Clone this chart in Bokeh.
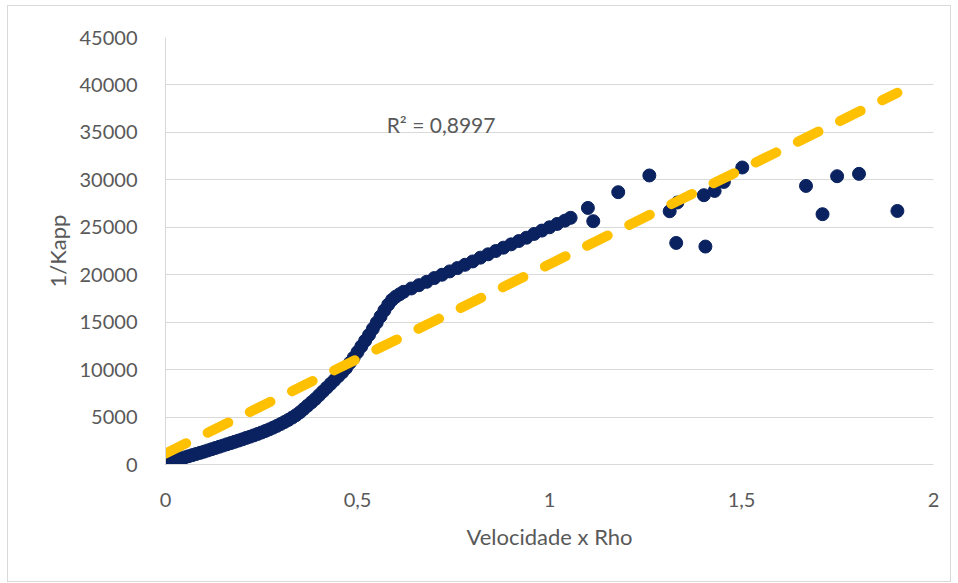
from bokeh.plotting import figure
from bokeh.layouts import column
from bokeh.models import FixedTicker, Range1d, Label, ColumnDataSource
from bokeh.embed import file_html
from bokeh.resources import INLINE

# Measured series: Velocidade x Rho vs 1/Kapp
vel_rho = [
    0.00, 0.01, 0.02, 0.03, 0.04, 0.05, 0.06, 0.07, 0.08, 0.09,
    0.10, 0.11, 0.12, 0.13, 0.14, 0.15, 0.16, 0.17, 0.18, 0.19,
    0.20, 0.21, 0.22, 0.23, 0.24, 0.25, 0.26, 0.27, 0.28, 0.29,
    0.30, 0.31, 0.32, 0.33, 0.34, 0.35, 0.36, 0.37, 0.38, 0.39,
    0.40, 0.41, 0.42, 0.43, 0.44, 0.45, 0.46, 0.47, 0.48, 0.49,
    0.50, 0.51, 0.52, 0.53, 0.54, 0.55, 0.56, 0.57, 0.58, 0.59,
    0.60, 0.61, 0.62, 0.64, 0.66, 0.68, 0.70, 0.72, 0.74, 0.76,
    0.78, 0.80, 0.82, 0.84, 0.86, 0.88, 0.90, 0.92, 0.94, 0.96,
    0.98, 1.00, 1.02, 1.04, 1.055,
    1.10, 1.114, 1.179, 1.26, 1.313, 1.333, 1.33, 1.406, 1.402, 1.43,
    1.454, 1.502, 1.668, 1.711, 1.749, 1.806, 1.906,
]
inv_kapp = [
    0, 180, 350, 500, 630, 750, 870, 990, 1110, 1230,
    1350, 1480, 1610, 1740, 1870, 2000, 2130, 2260, 2390, 2520,
    2650, 2800, 2930, 3070, 3220, 3370, 3530, 3700, 3880, 4070,
    4270, 4480, 4700, 4950, 5200, 5500, 5850, 6200, 6550, 6900,
    7300, 7700, 8100, 8500, 8900, 9300, 9700, 10150, 10700, 11250,
    11850, 12450, 13050, 13650, 14300, 14950, 15600, 16250, 16850, 17350,
    17700, 17950, 18200, 18550, 18900, 19250, 19650, 20000, 20350, 20700,
    21050, 21400, 21800, 22150, 22500, 22850, 23200, 23550, 23900, 24300,
    24650, 25000, 25350, 25700, 26000,
    27040, 25640, 28700, 30460, 26690, 27610, 23350, 22970, 28380, 28830,
    29780, 31300, 29360, 26380, 30380, 30630, 26720,
]

# Linear trendline y = intercept + slope * x, drawn over the data span
trend_intercept = 1160
trend_slope = 19950
r2_text = "R² = 0,8997"

x_ticks = [0, 0.5, 1, 1.5, 2]
x_tick_labels = ["0", "0,5", "1", "1,5", "2"]
y_ticks = [0, 5000, 10000, 15000, 20000, 25000, 30000, 35000, 40000, 45000]

FONT = "Lato"
TEXT_COLOR = "#595959"
GRID_COLOR = "#D9D9D9"
NAVY = "#0A2260"
GOLD = "#FFC000"

p = figure(
    width=942, height=575,
    output_backend="svg", toolbar_location=None,
    x_range=Range1d(0, 2), y_range=Range1d(0, 45000),
    min_border_left=157, min_border_right=17,
    min_border_top=31, min_border_bottom=117,
)
p.outline_line_color = None
p.background_fill_color = "white"
p.border_fill_color = "white"

# axes
p.xaxis.ticker = FixedTicker(ticks=x_ticks)
p.xaxis.major_label_overrides = {t: s for t, s in zip(x_ticks, x_tick_labels)}
p.yaxis.ticker = FixedTicker(ticks=y_ticks)
for ax in (p.xaxis, p.yaxis):
    ax.axis_line_color = GRID_COLOR
    ax.axis_line_width = 1
    ax.major_tick_line_color = None
    ax.minor_tick_line_color = None
    ax.major_label_text_font = FONT
    ax.major_label_text_font_size = "20px"
    ax.major_label_text_color = TEXT_COLOR
    ax.axis_label_text_font = FONT
    ax.axis_label_text_font_size = "22px"
    ax.axis_label_text_font_style = "normal"
    ax.axis_label_text_color = TEXT_COLOR
p.xaxis.axis_label = "Velocidade x Rho"
p.yaxis.axis_label = "1/Kapp"
p.xaxis.major_label_standoff = 22
p.yaxis.major_label_standoff = 22
p.xaxis.axis_label_standoff = 13
p.yaxis.axis_label_standoff = 6

p.xgrid.grid_line_color = None
p.ygrid.grid_line_color = GRID_COLOR
p.ygrid.grid_line_width = 1

# data points
src = ColumnDataSource(dict(x=vel_rho, y=inv_kapp))
p.scatter("x", "y", source=src, size=13, fill_color=NAVY, line_color=NAVY)

# trendline
tx = [min(vel_rho), max(vel_rho)]
ty = [trend_intercept + trend_slope * v for v in tx]
p.line(tx, ty, line_color=GOLD, line_width=10, line_dash="23 24", line_cap="round")

p.add_layout(Label(x=0.576, y=35870, text=r2_text, text_font=FONT,
                   text_font_size="21px", text_color=TEXT_COLOR,
                   text_baseline="middle", text_align="left"))

# thin light frame around the whole chart
chart = column(p, styles={"border": "1px solid #D9D9D9"}, margin=(5, 0, 0, 7))

open("out.html", "w").write(file_html(chart, INLINE))
